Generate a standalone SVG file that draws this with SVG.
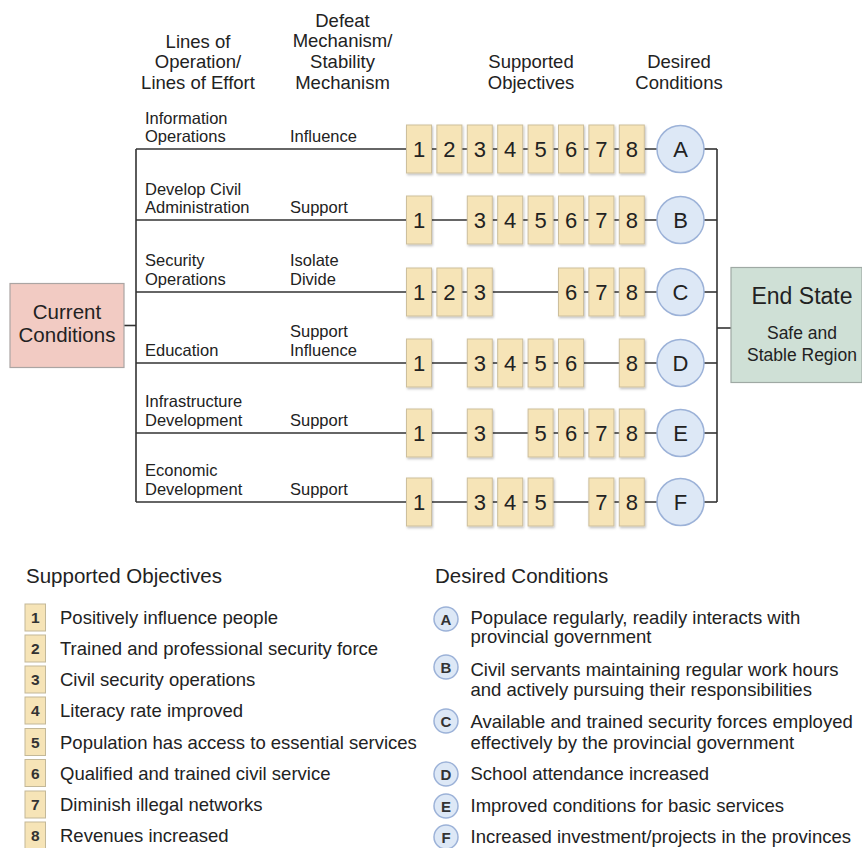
<svg xmlns="http://www.w3.org/2000/svg" width="862" height="848" viewBox="0 0 862 848">
<style>
text{font-family:"Liberation Sans",Arial,sans-serif;fill:#222}
.hd{font-size:18.5px;text-anchor:middle}
.rl{font-size:16.5px}
.ob{fill:#f6e4b7;stroke:#cdbf9c;stroke-width:1}
.on{font-size:22px;text-anchor:middle}
.dc{fill:#dde8f6;stroke:#9cb2d8;stroke-width:1.5}
.dl{font-size:22px;text-anchor:middle}
.ln{stroke:#333;stroke-width:1.6;fill:none}
.lg{font-size:18.5px}
.lgh{font-size:20.5px}
.lb{fill:#f6e4b7;stroke:#c3b898;stroke-width:1}
.lbn{font-size:15.5px;font-weight:bold;text-anchor:middle;fill:#333}
.lc{fill:#dde8f6;stroke:#9cb2d8;stroke-width:1.5}
.lcn{font-size:15px;font-weight:bold;text-anchor:middle;fill:#333}
</style>
<defs>
<filter id="sh" x="-20%" y="-20%" width="150%" height="150%">
<feDropShadow dx="1" dy="1.5" stdDeviation="0.8" flood-color="#000" flood-opacity="0.25"/>
</filter>
</defs>

<!-- headers -->
<g id="headers">
<text class="hd" x="198" y="47.5">Lines of</text>
<text class="hd" x="198" y="68">Operation/</text>
<text class="hd" x="198" y="88.5">Lines of Effort</text>
<text class="hd" x="342.5" y="26.5">Defeat</text>
<text class="hd" x="342.5" y="47">Mechanism/</text>
<text class="hd" x="342.5" y="68">Stability</text>
<text class="hd" x="342.5" y="88.5">Mechanism</text>
<text class="hd" x="531" y="68">Supported</text>
<text class="hd" x="531" y="88.5">Objectives</text>
<text class="hd" x="679" y="68">Desired</text>
<text class="hd" x="679" y="88.5">Conditions</text>
</g>

<!-- connectors -->
<g id="connectors" class="ln">
<line x1="124" y1="325.5" x2="136" y2="325.5"/>
<line x1="136" y1="149" x2="136" y2="502"/>
<line x1="136" y1="149" x2="657" y2="149"/>
<line x1="136" y1="220" x2="657" y2="220"/>
<line x1="136" y1="292" x2="657" y2="292"/>
<line x1="136" y1="363" x2="657" y2="363"/>
<line x1="136" y1="433" x2="657" y2="433"/>
<line x1="136" y1="502" x2="657" y2="502"/>
<line x1="704" y1="149" x2="717" y2="149"/>
<line x1="704" y1="220" x2="717" y2="220"/>
<line x1="704" y1="292" x2="717" y2="292"/>
<line x1="704" y1="363" x2="717" y2="363"/>
<line x1="704" y1="433" x2="717" y2="433"/>
<line x1="704" y1="502" x2="717" y2="502"/>
<line x1="717" y1="149" x2="717" y2="502"/>
<line x1="717" y1="328" x2="731" y2="328"/>
</g>

<!-- current conditions -->
<g id="current-conditions">
<rect x="10" y="283.5" width="114" height="84" fill="#f2cbc3" stroke="#aba5a3" stroke-width="1.2"/>
<text x="67" y="318.5" font-size="20.5" text-anchor="middle">Current</text>
<text x="67" y="342" font-size="20.5" text-anchor="middle">Conditions</text>
</g>

<!-- end state -->
<g id="end-state">
<rect x="731" y="267.5" width="131" height="115" fill="#cfe0d6" stroke="#9fa9a4" stroke-width="1.2"/>
<text x="802" y="304" font-size="23" text-anchor="middle">End State</text>
<text x="802" y="339" font-size="17.5" text-anchor="middle">Safe and</text>
<text x="802" y="361" font-size="17.5" text-anchor="middle">Stable Region</text>
</g>

<!-- row labels -->
<g id="row-labels">
<text class="rl" x="145" y="124">Information</text>
<text class="rl" x="145" y="142">Operations</text>
<text class="rl" x="290" y="142">Influence</text>
<text class="rl" x="145" y="195">Develop Civil</text>
<text class="rl" x="145" y="213">Administration</text>
<text class="rl" x="290" y="213">Support</text>
<text class="rl" x="145" y="266">Security</text>
<text class="rl" x="145" y="284.5">Operations</text>
<text class="rl" x="290" y="266">Isolate</text>
<text class="rl" x="290" y="284.5">Divide</text>
<text class="rl" x="145" y="355.5">Education</text>
<text class="rl" x="290" y="337">Support</text>
<text class="rl" x="290" y="355.5">Influence</text>
<text class="rl" x="145" y="407">Infrastructure</text>
<text class="rl" x="145" y="425.5">Development</text>
<text class="rl" x="290" y="425.5">Support</text>
<text class="rl" x="145" y="476">Economic</text>
<text class="rl" x="145" y="494.5">Development</text>
<text class="rl" x="290" y="494.5">Support</text>
</g>

<!-- Row A -->
<g id="row-A" transform="translate(0,149)">
<g id="A-obj1"><rect class="ob" filter="url(#sh)" x="406.5" y="-24" width="25" height="48"/><text class="on" x="419" y="8">1</text></g>
<g id="A-obj2"><rect class="ob" filter="url(#sh)" x="436.9" y="-24" width="25" height="48"/><text class="on" x="449.4" y="8">2</text></g>
<g id="A-obj3"><rect class="ob" filter="url(#sh)" x="467.3" y="-24" width="25" height="48"/><text class="on" x="479.8" y="8">3</text></g>
<g id="A-obj4"><rect class="ob" filter="url(#sh)" x="497.7" y="-24" width="25" height="48"/><text class="on" x="510.2" y="8">4</text></g>
<g id="A-obj5"><rect class="ob" filter="url(#sh)" x="528.1" y="-24" width="25" height="48"/><text class="on" x="540.6" y="8">5</text></g>
<g id="A-obj6"><rect class="ob" filter="url(#sh)" x="558.5" y="-24" width="25" height="48"/><text class="on" x="571" y="8">6</text></g>
<g id="A-obj7"><rect class="ob" filter="url(#sh)" x="588.9" y="-24" width="25" height="48"/><text class="on" x="601.4" y="8">7</text></g>
<g id="A-obj8"><rect class="ob" filter="url(#sh)" x="619.3" y="-24" width="25" height="48"/><text class="on" x="631.8" y="8">8</text></g>
<g id="cond-A"><circle class="dc" cx="680.5" cy="0" r="23.5"/><text class="dl" x="680.5" y="8">A</text></g>
</g>

<!-- Row B -->
<g id="row-B" transform="translate(0,220)">
<g id="B-obj1"><rect class="ob" filter="url(#sh)" x="406.5" y="-24" width="25" height="48"/><text class="on" x="419" y="8">1</text></g>
<g id="B-obj3"><rect class="ob" filter="url(#sh)" x="467.3" y="-24" width="25" height="48"/><text class="on" x="479.8" y="8">3</text></g>
<g id="B-obj4"><rect class="ob" filter="url(#sh)" x="497.7" y="-24" width="25" height="48"/><text class="on" x="510.2" y="8">4</text></g>
<g id="B-obj5"><rect class="ob" filter="url(#sh)" x="528.1" y="-24" width="25" height="48"/><text class="on" x="540.6" y="8">5</text></g>
<g id="B-obj6"><rect class="ob" filter="url(#sh)" x="558.5" y="-24" width="25" height="48"/><text class="on" x="571" y="8">6</text></g>
<g id="B-obj7"><rect class="ob" filter="url(#sh)" x="588.9" y="-24" width="25" height="48"/><text class="on" x="601.4" y="8">7</text></g>
<g id="B-obj8"><rect class="ob" filter="url(#sh)" x="619.3" y="-24" width="25" height="48"/><text class="on" x="631.8" y="8">8</text></g>
<g id="cond-B"><circle class="dc" cx="680.5" cy="0" r="23.5"/><text class="dl" x="680.5" y="8">B</text></g>
</g>

<!-- Row C -->
<g id="row-C" transform="translate(0,292)">
<g id="C-obj1"><rect class="ob" filter="url(#sh)" x="406.5" y="-24" width="25" height="48"/><text class="on" x="419" y="8">1</text></g>
<g id="C-obj2"><rect class="ob" filter="url(#sh)" x="436.9" y="-24" width="25" height="48"/><text class="on" x="449.4" y="8">2</text></g>
<g id="C-obj3"><rect class="ob" filter="url(#sh)" x="467.3" y="-24" width="25" height="48"/><text class="on" x="479.8" y="8">3</text></g>
<g id="C-obj6"><rect class="ob" filter="url(#sh)" x="558.5" y="-24" width="25" height="48"/><text class="on" x="571" y="8">6</text></g>
<g id="C-obj7"><rect class="ob" filter="url(#sh)" x="588.9" y="-24" width="25" height="48"/><text class="on" x="601.4" y="8">7</text></g>
<g id="C-obj8"><rect class="ob" filter="url(#sh)" x="619.3" y="-24" width="25" height="48"/><text class="on" x="631.8" y="8">8</text></g>
<g id="cond-C"><circle class="dc" cx="680.5" cy="0" r="23.5"/><text class="dl" x="680.5" y="8">C</text></g>
</g>

<!-- Row D -->
<g id="row-D" transform="translate(0,363)">
<g id="D-obj1"><rect class="ob" filter="url(#sh)" x="406.5" y="-24" width="25" height="48"/><text class="on" x="419" y="8">1</text></g>
<g id="D-obj3"><rect class="ob" filter="url(#sh)" x="467.3" y="-24" width="25" height="48"/><text class="on" x="479.8" y="8">3</text></g>
<g id="D-obj4"><rect class="ob" filter="url(#sh)" x="497.7" y="-24" width="25" height="48"/><text class="on" x="510.2" y="8">4</text></g>
<g id="D-obj5"><rect class="ob" filter="url(#sh)" x="528.1" y="-24" width="25" height="48"/><text class="on" x="540.6" y="8">5</text></g>
<g id="D-obj6"><rect class="ob" filter="url(#sh)" x="558.5" y="-24" width="25" height="48"/><text class="on" x="571" y="8">6</text></g>
<g id="D-obj8"><rect class="ob" filter="url(#sh)" x="619.3" y="-24" width="25" height="48"/><text class="on" x="631.8" y="8">8</text></g>
<g id="cond-D"><circle class="dc" cx="680.5" cy="0" r="23.5"/><text class="dl" x="680.5" y="8">D</text></g>
</g>

<!-- Row E -->
<g id="row-E" transform="translate(0,433)">
<g id="E-obj1"><rect class="ob" filter="url(#sh)" x="406.5" y="-24" width="25" height="48"/><text class="on" x="419" y="8">1</text></g>
<g id="E-obj3"><rect class="ob" filter="url(#sh)" x="467.3" y="-24" width="25" height="48"/><text class="on" x="479.8" y="8">3</text></g>
<g id="E-obj5"><rect class="ob" filter="url(#sh)" x="528.1" y="-24" width="25" height="48"/><text class="on" x="540.6" y="8">5</text></g>
<g id="E-obj6"><rect class="ob" filter="url(#sh)" x="558.5" y="-24" width="25" height="48"/><text class="on" x="571" y="8">6</text></g>
<g id="E-obj7"><rect class="ob" filter="url(#sh)" x="588.9" y="-24" width="25" height="48"/><text class="on" x="601.4" y="8">7</text></g>
<g id="E-obj8"><rect class="ob" filter="url(#sh)" x="619.3" y="-24" width="25" height="48"/><text class="on" x="631.8" y="8">8</text></g>
<g id="cond-E"><circle class="dc" cx="680.5" cy="0" r="23.5"/><text class="dl" x="680.5" y="8">E</text></g>
</g>

<!-- Row F -->
<g id="row-F" transform="translate(0,502)">
<g id="F-obj1"><rect class="ob" filter="url(#sh)" x="406.5" y="-24" width="25" height="48"/><text class="on" x="419" y="8">1</text></g>
<g id="F-obj3"><rect class="ob" filter="url(#sh)" x="467.3" y="-24" width="25" height="48"/><text class="on" x="479.8" y="8">3</text></g>
<g id="F-obj4"><rect class="ob" filter="url(#sh)" x="497.7" y="-24" width="25" height="48"/><text class="on" x="510.2" y="8">4</text></g>
<g id="F-obj5"><rect class="ob" filter="url(#sh)" x="528.1" y="-24" width="25" height="48"/><text class="on" x="540.6" y="8">5</text></g>
<g id="F-obj7"><rect class="ob" filter="url(#sh)" x="588.9" y="-24" width="25" height="48"/><text class="on" x="601.4" y="8">7</text></g>
<g id="F-obj8"><rect class="ob" filter="url(#sh)" x="619.3" y="-24" width="25" height="48"/><text class="on" x="631.8" y="8">8</text></g>
<g id="cond-F"><circle class="dc" cx="680.5" cy="0" r="23.5"/><text class="dl" x="680.5" y="8">F</text></g>
</g>

<!-- legend: supported objectives -->
<g id="legend-objectives">
<text class="lgh" x="26" y="583">Supported Objectives</text>
<g transform="translate(0,624)"><rect class="lb" x="25" y="-20" width="20.5" height="27"/><text class="lbn" x="35.3" y="-1">1</text><text class="lg" x="60" y="0">Positively influence people</text></g>
<g transform="translate(0,655)"><rect class="lb" x="25" y="-20" width="20.5" height="27"/><text class="lbn" x="35.3" y="-1">2</text><text class="lg" x="60" y="0">Trained and professional security force</text></g>
<g transform="translate(0,686)"><rect class="lb" x="25" y="-20" width="20.5" height="27"/><text class="lbn" x="35.3" y="-1">3</text><text class="lg" x="60" y="0">Civil security operations</text></g>
<g transform="translate(0,717)"><rect class="lb" x="25" y="-20" width="20.5" height="27"/><text class="lbn" x="35.3" y="-1">4</text><text class="lg" x="60" y="0">Literacy rate improved</text></g>
<g transform="translate(0,748.5)"><rect class="lb" x="25" y="-20" width="20.5" height="27"/><text class="lbn" x="35.3" y="-1">5</text><text class="lg" x="60" y="0">Population has access to essential services</text></g>
<g transform="translate(0,779.5)"><rect class="lb" x="25" y="-20" width="20.5" height="27"/><text class="lbn" x="35.3" y="-1">6</text><text class="lg" x="60" y="0">Qualified and trained civil service</text></g>
<g transform="translate(0,811)"><rect class="lb" x="25" y="-20" width="20.5" height="27"/><text class="lbn" x="35.3" y="-1">7</text><text class="lg" x="60" y="0">Diminish illegal networks</text></g>
<g transform="translate(0,842)"><rect class="lb" x="25" y="-20" width="20.5" height="27"/><text class="lbn" x="35.3" y="-1">8</text><text class="lg" x="60" y="0">Revenues increased</text></g>
</g>

<!-- legend: desired conditions -->
<g id="legend-conditions">
<text class="lgh" x="435" y="583">Desired Conditions</text>
<g><circle class="lc" cx="446" cy="619" r="12"/><text class="lcn" x="446" y="624.5">A</text>
<text class="lg" x="470.5" y="624">Populace regularly, readily interacts with</text>
<text class="lg" x="470.5" y="643">provincial government</text></g>
<g><circle class="lc" cx="446" cy="667" r="12"/><text class="lcn" x="446" y="672.5">B</text>
<text class="lg" x="470.5" y="676">Civil servants maintaining regular work hours</text>
<text class="lg" x="470.5" y="696">and actively pursuing their responsibilities</text></g>
<g><circle class="lc" cx="446" cy="721" r="12"/><text class="lcn" x="446" y="726.5">C</text>
<text class="lg" x="470.5" y="728">Available and trained security forces employed</text>
<text class="lg" x="470.5" y="748.5">effectively by the provincial government</text></g>
<g><circle class="lc" cx="446" cy="774" r="12"/><text class="lcn" x="446" y="779.5">D</text>
<text class="lg" x="470.5" y="780">School attendance increased</text></g>
<g><circle class="lc" cx="446" cy="806" r="12"/><text class="lcn" x="446" y="811.5">E</text>
<text class="lg" x="470.5" y="812">Improved conditions for basic services</text></g>
<g><circle class="lc" cx="446" cy="837" r="12"/><text class="lcn" x="446" y="842.5">F</text>
<text class="lg" x="470.5" y="843">Increased investment/projects in the provinces</text></g>
</g>
</svg>
